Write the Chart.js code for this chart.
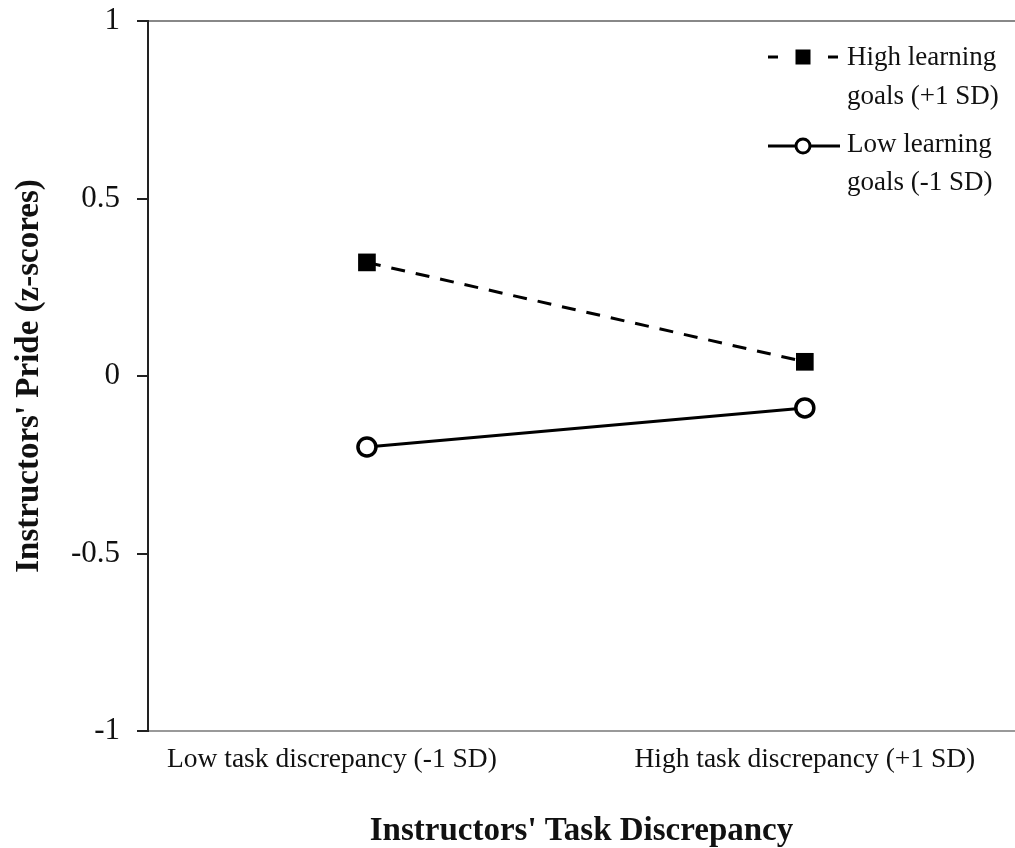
<!DOCTYPE html>
<html>
<head>
<meta charset="utf-8">
<script src="https://cdn.jsdelivr.net/npm/chart.js@4.4.1/dist/chart.umd.min.js"></script>
<style>
  html, body { margin: 0; padding: 0; background: #fff; overflow: hidden; }
  canvas { display: block; }
</style>
</head>
<body>
<canvas id="prideChart" width="1015" height="848"></canvas>
<script>
// categories on the x axis
const categories = ['Low task discrepancy (-1 SD)', 'High task discrepancy (+1 SD)'];
// series values (z-scores)
const highGoals = [0.32, 0.04];
const lowGoals = [-0.20, -0.09];
// y axis ticks
const yTickValues = [1, 0.5, 0, -0.5, -1];
const yTickLabels = ['1', '0.5', '0', '-0.5', '-1'];
// legend text, two lines each
const legendLabels = [['High learning', 'goals (+1 SD)'], ['Low learning', 'goals (-1 SD)']];

const serif = '"Liberation Serif", "Times New Roman", serif';

// legend drawn by hand so each entry can wrap onto two lines
const sideLegend = {
  id: 'sideLegend',
  afterDraw(chart) {
    const ctx = chart.ctx;
    const rows = [
      { lineY: 57, textY: [58, 97] },
      { lineY: 146, textY: [145, 183] }
    ];
    chart.data.datasets.forEach((ds, i) => {
      const r = rows[i];
      ctx.save();
      ctx.strokeStyle = ds.borderColor;
      ctx.lineWidth = ds.borderWidth;
      ctx.setLineDash(ds.borderDash ? [10, 20] : []);
      ctx.beginPath();
      ctx.moveTo(768, r.lineY);
      ctx.lineTo(840, r.lineY);
      ctx.stroke();
      ctx.setLineDash([]);
      const cx = 803;
      if (ds.pointStyle === 'rect') {
        ctx.fillStyle = ds.pointBackgroundColor;
        ctx.fillRect(cx - 7.5, r.lineY - 7.5, 15, 15);
      } else {
        ctx.beginPath();
        ctx.arc(cx, r.lineY, 7, 0, Math.PI * 2);
        ctx.fillStyle = ds.pointBackgroundColor;
        ctx.fill();
        ctx.lineWidth = 3;
        ctx.strokeStyle = ds.pointBorderColor;
        ctx.stroke();
      }
      ctx.fillStyle = '#111';
      ctx.font = '27px ' + serif;
      ctx.textBaseline = 'middle';
      ctx.textAlign = 'left';
      legendLabels[i].forEach((t, j) => ctx.fillText(t, 847, r.textY[j]));
      ctx.restore();
    });
  }
};

const ctx = document.getElementById('prideChart').getContext('2d');
new Chart(ctx, {
  type: 'line',
  data: {
    datasets: [{
      label: legendLabels[0].join(' '),
      data: highGoals.map((v, i) => ({ x: i, y: v })),
      borderColor: '#000',
      borderWidth: 3,
      borderDash: [14, 11],
      pointStyle: 'rect',
      pointRadius: 12.5,
      pointBackgroundColor: '#000',
      pointBorderColor: '#000',
      pointBorderWidth: 0
    }, {
      label: legendLabels[1].join(' '),
      data: lowGoals.map((v, i) => ({ x: i, y: v })),
      borderColor: '#000',
      borderWidth: 3,
      pointStyle: 'circle',
      pointRadius: 9,
      pointBackgroundColor: '#fff',
      pointBorderColor: '#000',
      pointBorderWidth: 3.5
    }]
  },
  options: {
    responsive: false,
    animation: false,
    layout: { autoPadding: false, padding: { top: 21, right: 0, left: 0, bottom: 0 } },
    plugins: {
      legend: { display: false },
      tooltip: { enabled: false }
    },
    scales: {
      x: {
        type: 'linear',
        min: -0.5,
        max: 1.48,
        afterBuildTicks: (scale) => {
          // first label sits a little left of its point in the original
          scale.ticks = [{ value: -0.08 }, { value: 1 }];
        },
        afterFit: (scale) => {
          scale.height = 117;
          scale.paddingLeft = 0;
          scale.paddingRight = 0;
        },
        ticks: {
          callback: (v, i) => categories[i],
          color: '#111',
          font: { family: serif, size: 27.5 },
          padding: 12,
          maxRotation: 0,
          autoSkip: false
        },
        grid: { display: false, drawTicks: false },
        border: { color: '#999', width: 2 },
        title: {
          display: true,
          text: "Instructors' Task Discrepancy",
          color: '#111',
          font: { family: serif, size: 33, weight: 'bold', lineHeight: 1 },
          padding: { top: 0, bottom: 0 }
        }
      },
      y: {
        min: -1,
        max: 1,
        afterBuildTicks: (scale) => {
          scale.ticks = yTickValues.map(v => ({ value: v }));
        },
        afterFit: (scale) => {
          scale.width = 148;
          scale.paddingTop = 0;
          scale.paddingBottom = 0;
        },
        ticks: {
          callback: (v, i) => yTickLabels[i],
          color: '#111',
          font: { family: serif, size: 31 },
          padding: 17
        },
        grid: {
          color: (c) => (c.tick && c.tick.value === 1 ? '#888' : 'rgba(0,0,0,0)'),
          lineWidth: 2,
          drawTicks: true,
          tickLength: 11,
          tickColor: '#222',
          tickWidth: 2
        },
        border: { color: '#222', width: 2 },
        title: {
          display: true,
          text: "Instructors' Pride (z-scores)",
          color: '#111',
          font: { family: serif, size: 33, weight: 'bold', lineHeight: 1 },
          padding: { top: 13, bottom: 0 }
        }
      }
    }
  },
  plugins: [sideLegend]
});
</script>
</body>
</html>
